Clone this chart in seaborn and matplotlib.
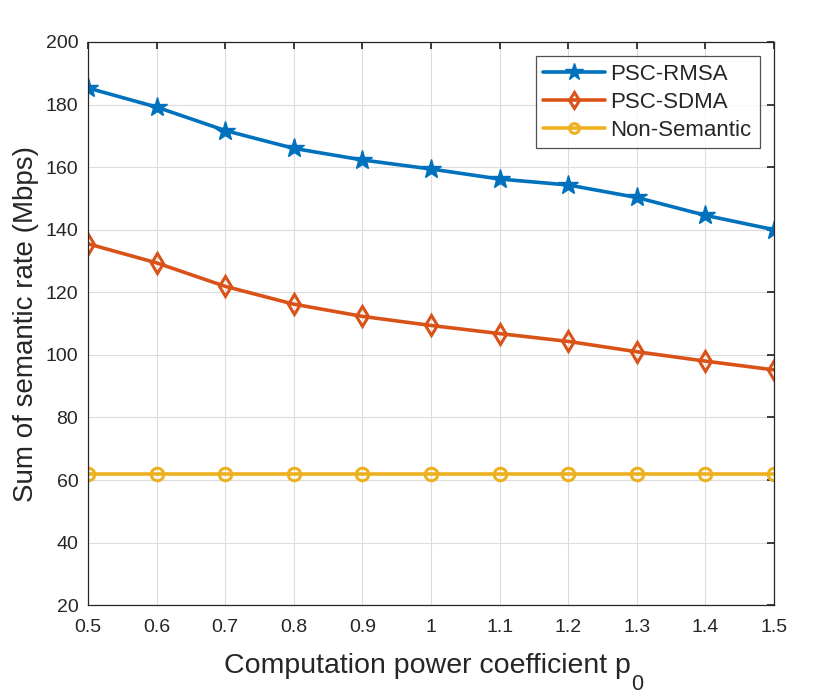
import matplotlib
matplotlib.use("Agg")
import matplotlib.pyplot as plt
import seaborn as sns
import pandas as pd
import numpy as np

p0 = [0.5, 0.6, 0.7, 0.8, 0.9, 1.0, 1.1, 1.2, 1.3, 1.4, 1.5]
psc_rmsa = [185.3, 179.2, 171.7, 166.0, 162.3, 159.4, 156.2, 154.3, 150.3, 144.6, 140.0]
psc_sdma = [135.5, 129.4, 121.9, 116.2, 112.3, 109.4, 106.8, 104.3, 101.0, 98.0, 95.2]
non_semantic = [62.0, 62.0, 62.0, 62.0, 62.0, 62.0, 62.0, 62.0, 62.0, 62.0, 62.0]
xtick_labels = ["0.5", "0.6", "0.7", "0.8", "0.9", "1", "1.1", "1.2", "1.3", "1.4", "1.5"]

series_names = ["PSC-RMSA", "PSC-SDMA", "Non-Semantic"]
colors = ["#0072BD", "#D95319", "#EDB120"]
markers = ["*", "d", "o"]
msizes = [15, 10.5, 9]
leg_msizes = [13, 8, 7]
mfill = ["full", "none", "none"]

df = pd.DataFrame({
    "p0": p0 * 3,
    "rate": psc_rmsa + psc_sdma + non_semantic,
    "method": sum([[n] * len(p0) for n in series_names], []),
})

sns.set_theme(style="white")
plt.rcParams["font.family"] = ["Liberation Sans", "DejaVu Sans"]

W_px, H_px = 830, 694
fig = plt.figure(figsize=(W_px / 100, H_px / 100), dpi=100)
ax = fig.add_axes([0.106, 0.128, 0.8265, 0.8115])

for name, c, m, ms, mf in zip(series_names, colors, markers, msizes, mfill):
    sub = df[df["method"] == name]
    sns.lineplot(data=sub, x="p0", y="rate", ax=ax, color=c, linewidth=2.6,
                 marker=m, markersize=ms,
                 markerfacecolor=(c if mf == "full" else "none"),
                 markeredgecolor=c, markeredgewidth=(1.0 if mf == "full" else 2.2),
                 label=name)

ax.set_xlim(0.5, 1.5)
ax.set_ylim(20, 200)
ax.set_xticks(p0)
ax.set_xticklabels(xtick_labels)
ax.set_yticks(np.arange(20, 201, 20))
ax.grid(True, color="#dcdcdc", linewidth=0.8)
ax.tick_params(direction="in", length=5, labelsize=14, colors="#262626", top=True, right=True)
ax.tick_params(axis="x", pad=10)
ax.tick_params(axis="y", pad=7)
for s in ax.spines.values():
    s.set_color("#262626")
    s.set_linewidth(0.9)

ax.set_xlabel("")
ax.set_ylabel("Sum of semantic rate (Mbps)", fontsize=20, color="#262626", labelpad=5)

# x label with MATLAB-style subscript
xl = fig.text(427 / W_px, (H_px - 673) / H_px, "Computation power coefficient p",
              fontsize=20.5, color="#262626", ha="center", va="baseline")

leg = ax.legend(loc="upper right", fontsize=16, frameon=True, fancybox=False,
                edgecolor="#262626", borderpad=0.35, handlelength=2.75, labelspacing=0.3,
                handletextpad=0.27, borderaxespad=0.65)
leg.get_frame().set_linewidth(0.9)
for h, lms in zip(leg.legend_handles, leg_msizes):
    h.set_markersize(lms)

fig.canvas.draw()
bb = xl.get_window_extent(fig.canvas.get_renderer())
fig.text((bb.x1 + 1) / W_px, 4 / H_px, "0", fontsize=15.5, color="#262626",
         ha="left", va="baseline")

fig.savefig("out.png", dpi=100)
